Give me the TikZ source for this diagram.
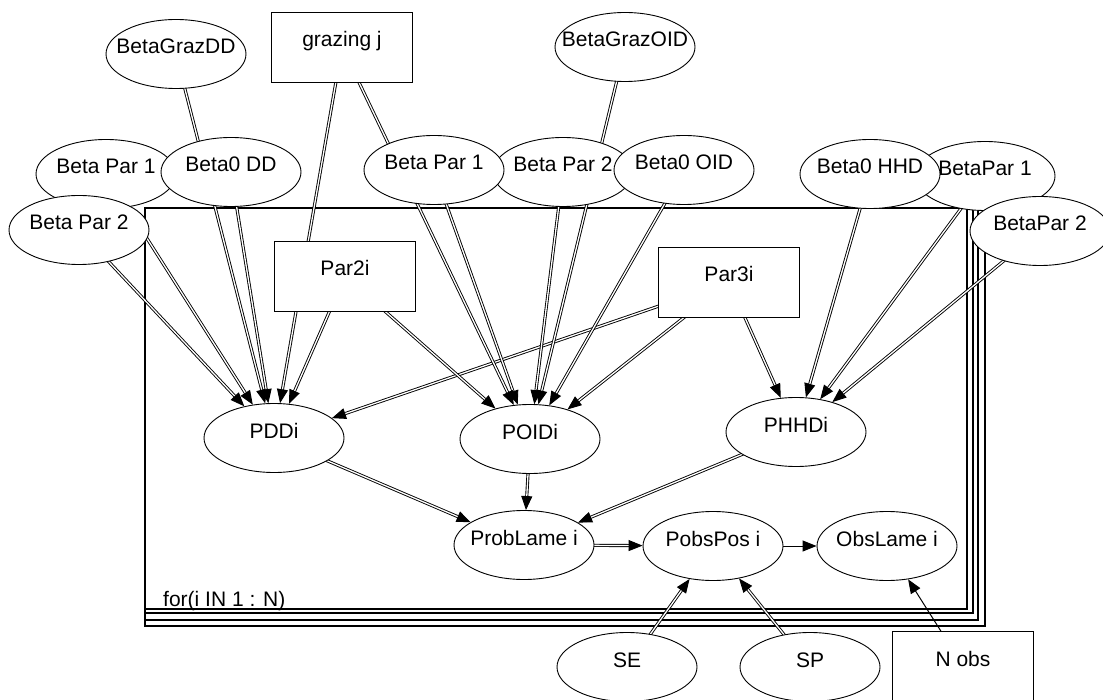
\documentclass[tikz,border=0pt]{standalone}
\usepackage{fontspec}
\setmainfont{Liberation Sans}
\usetikzlibrary{shapes.geometric,arrows.meta,backgrounds}
\newcommand{\vlab}[1]{\smash{\makebox[0pt]{#1}}}
\begin{document}
\begin{tikzpicture}[x=1pt, y=-1pt, font=\fontsize{21}{25}\selectfont,
  sv/.style={draw, ellipse, fill=white, line width=0.9pt, minimum width=140pt, minimum height=69pt, inner sep=0pt},
  cv/.style={draw, rectangle, fill=white, line width=0.9pt, minimum width=141pt, minimum height=70pt, inner sep=0pt},
  dl/.style={double, double distance=1.3pt, line width=0.9pt, -{Triangle[length=14pt, width=11pt]}},
  sl/.style={line width=1pt, -{Triangle[length=14pt, width=11pt]}},
  plate/.style={line width=1.2pt}]
\useasboundingbox (0,0) rectangle (1103,700);
% top row
\node[sv] (bgdd) at (176,54) {\vlab{BetaGrazDD}};
\node[cv] (grazj) at (342,47) {\vlab{grazing j}};
\node[sv] (bgoid) at (625,47) {\vlab{BetaGrazOID}};
% parameters, left
\node[sv] (bp1l) at (106,174) {\vlab{Beta Par 1}};
\node[sv] (b0dd) at (231,172) {\vlab{Beta0 DD}};
\node[sv] (bp2l) at (79,230) {\vlab{Beta Par 2}};
% parameters, middle
\node[sv] (bp2m) at (563,172) {\vlab{Beta Par 2}};
\node[sv] (bp1m) at (434,170) {\vlab{Beta Par 1}};
\node[sv] (b0oid) at (684,170) {\vlab{Beta0 OID}};
% parameters, right
\node[sv] (bp1r) at (985,176) {\vlab{BetaPar 1}};
\node[sv] (b0hhd) at (870,174) {\vlab{Beta0 HHD}};
\node[sv] (bp2r) at (1040,231) {\vlab{BetaPar 2}};
% inside the plate
\node[cv] (par2) at (345,276) {\vlab{Par2i}};
\node[cv] (par3) at (729,282) {\vlab{Par3i}};
\node[sv] (pdd) at (274,438) {\vlab{PDDi}};
\node[sv] (poid) at (530,439) {\vlab{POIDi}};
\node[sv] (phhd) at (796,432) {\vlab{PHHDi}};
\node[sv] (probl) at (524,545) {\vlab{ProbLame i}};
\node[sv] (pobs) at (713,546) {\vlab{PobsPos i}};
\node[sv] (obsl) at (887,546) {\vlab{ObsLame i}};
\node[anchor=base west, inner sep=0pt] (forlbl) at (163,606) {for(i IN 1 : N)};
% below the plate
\node[sv] (se) at (627,667) {\vlab{SE}};
\node[sv] (sp) at (810,667) {\vlab{SP}};
\node[cv] (nobs) at (963,666) {\vlab{N obs}};
\begin{pgfonlayer}{background}
% plate, stacked frames
\foreach \r/\b in {967/609, 973/613, 978/620, 985/626}
  \draw[plate] (145,208) rectangle (\r,\b);
% links
\draw[dl] (bp2l.center) -- (pdd); \draw[dl] (bp1l.center) -- (pdd); \draw[dl] (bgdd.center) -- (pdd);
\draw[dl] (b0dd.center) -- (pdd); \draw[dl] (grazj.center) -- (pdd); \draw[dl] (par2.center) -- (pdd);
\draw[dl] (par3.center) -- (pdd);
\draw[dl] (par2.center) -- (poid); \draw[dl] (bp1m.center) -- (poid); \draw[dl] (grazj.center) -- (poid);
\draw[dl] (bp2m.center) -- (poid); \draw[dl] (bgoid.center) -- (poid); \draw[dl] (b0oid.center) -- (poid);
\draw[dl] (par3.center) -- (poid);
\draw[dl] (par3.center) -- (phhd); \draw[dl] (b0hhd.center) -- (phhd); \draw[dl] (bp1r.center) -- (phhd);
\draw[dl] (bp2r.center) -- (phhd);
\draw[dl] (pdd.center) -- (probl); \draw[dl] (poid.center) -- (probl); \draw[dl] (phhd.center) -- (probl);
\draw[dl] (probl.center) -- (pobs); \draw[sl] (pobs.center) -- (obsl);
\draw[dl] (se.center) -- (pobs); \draw[dl] (sp.center) -- (pobs); \draw[sl] (nobs.center) -- (obsl);
\end{pgfonlayer}
\end{tikzpicture}
\end{document}
